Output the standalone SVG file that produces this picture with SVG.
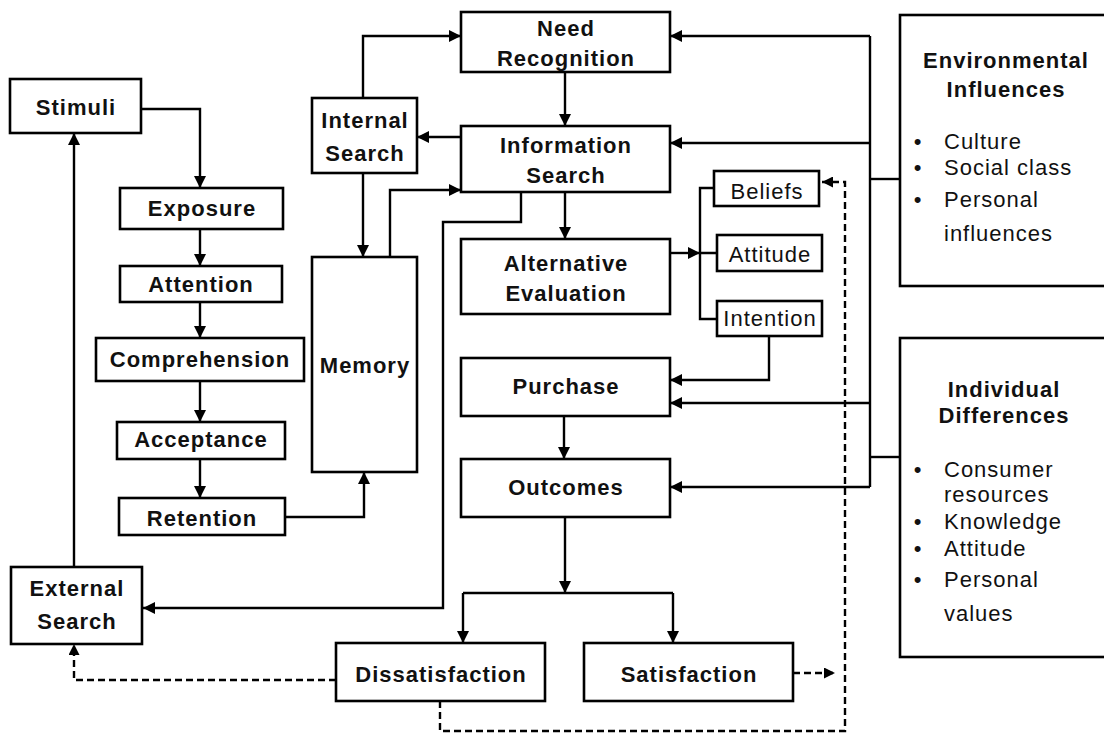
<svg xmlns="http://www.w3.org/2000/svg" width="1104" height="734" viewBox="0 0 1104 734">
  <style>
    .box { fill: #ffffff; stroke: #000000; stroke-width: 2.6; }
    .lbl { font-family: "Liberation Sans", Arial, sans-serif; font-size: 22px; font-weight: bold; letter-spacing: 1px; fill: #111111; text-anchor: middle; }
    .reg { font-family: "Liberation Sans", Arial, sans-serif; font-size: 22px; letter-spacing: 1px; fill: #111111; }
    .regc { text-anchor: middle; }
    .ln { fill: none; stroke: #000000; stroke-width: 2.4; }
    .dash { fill: none; stroke: #000000; stroke-width: 2.4; stroke-dasharray: 7 4; }
  </style>
  <defs>
    <marker id="arr" markerUnits="userSpaceOnUse" markerWidth="13" markerHeight="12" refX="12" refY="6" orient="auto">
      <path d="M0,0 L12,6 L0,12 Z" fill="#000000"/>
    </marker>
    <marker id="arrs" markerUnits="userSpaceOnUse" markerWidth="12" markerHeight="11" refX="11" refY="5.5" orient="auto">
      <path d="M0,0 L11,5.5 L0,11 Z" fill="#000000"/>
    </marker>
  </defs>
  <rect width="1104" height="734" fill="#ffffff"/>

  <!-- connectors -->
  <g id="connectors">
    <path class="ln" d="M141,109 H200 V188" marker-end="url(#arr)"/>
    <path class="ln" d="M200,229 V266" marker-end="url(#arr)"/>
    <path class="ln" d="M200,302 V338" marker-end="url(#arr)"/>
    <path class="ln" d="M200,381 V422" marker-end="url(#arr)"/>
    <path class="ln" d="M200,459 V498" marker-end="url(#arr)"/>
    <path class="ln" d="M285,517 H364 V472" marker-end="url(#arr)"/>
    <path class="ln" d="M74,567 V133" marker-end="url(#arr)"/>
    <path class="ln" d="M363,98 V36 H461" marker-end="url(#arr)"/>
    <path class="ln" d="M363,173 V257" marker-end="url(#arr)"/>
    <path class="ln" d="M390,257 V190 H461" marker-end="url(#arr)"/>
    <path class="ln" d="M461,137 H417" marker-end="url(#arr)"/>
    <path class="ln" d="M565,72 V126" marker-end="url(#arr)"/>
    <path class="ln" d="M565,192 V239" marker-end="url(#arr)"/>
    <path class="ln" d="M521,192 V222 H443 V608 H143" marker-end="url(#arr)"/>
    <path class="ln" d="M670,253 H700" marker-end="url(#arr)"/>
    <path class="ln" d="M714,188 H700 V319 H717 M700,253 H717"/>
    <path class="ln" d="M769,336 V380 H670" marker-end="url(#arr)"/>
    <path class="ln" d="M564,416 V459" marker-end="url(#arr)"/>
    <path class="ln" d="M565,517 V593" marker-end="url(#arr)"/>
    <path class="ln" d="M463,593 H673"/>
    <path class="ln" d="M463,593 V643" marker-end="url(#arr)"/>
    <path class="ln" d="M673,593 V643" marker-end="url(#arr)"/>
    <!-- influence bus -->
    <path class="ln" d="M870,36 V487"/>
    <path class="ln" d="M870,36 H670" marker-end="url(#arr)"/>
    <path class="ln" d="M870,143 H670" marker-end="url(#arr)"/>
    <path class="ln" d="M870,403 H670" marker-end="url(#arr)"/>
    <path class="ln" d="M870,487 H670" marker-end="url(#arr)"/>
    <path class="ln" d="M870,179 H900"/>
    <path class="ln" d="M870,457 H900"/>
    <!-- feedback -->
    <path class="dash" d="M336,680 H74 V644" marker-end="url(#arrs)"/>
    <path class="dash" d="M440,701 V731 H845 V182 H822" marker-end="url(#arrs)"/>
    <path class="dash" d="M793,673 H835" marker-end="url(#arrs)"/>
  </g>

  <g id="stimuli">
    <rect class="box" x="10" y="79" width="131" height="54"/>
    <text class="lbl" x="76" y="115">Stimuli</text>
  </g>
  <g id="exposure">
    <rect class="box" x="120" y="188" width="163" height="41"/>
    <text class="lbl" x="202" y="216">Exposure</text>
  </g>
  <g id="attention">
    <rect class="box" x="120" y="266" width="162" height="36"/>
    <text class="lbl" x="201" y="292">Attention</text>
  </g>
  <g id="comprehension">
    <rect class="box" x="96" y="338" width="208" height="43"/>
    <text class="lbl" x="200" y="367">Comprehension</text>
  </g>
  <g id="acceptance">
    <rect class="box" x="117" y="422" width="168" height="37"/>
    <text class="lbl" x="201" y="447">Acceptance</text>
  </g>
  <g id="retention">
    <rect class="box" x="119" y="498" width="166" height="37"/>
    <text class="lbl" x="202" y="526">Retention</text>
  </g>
  <g id="external-search">
    <rect class="box" x="11" y="567" width="131" height="77"/>
    <text class="lbl" x="77" y="596">External</text>
    <text class="lbl" x="77" y="629">Search</text>
  </g>
  <g id="internal-search">
    <rect class="box" x="312" y="98" width="105" height="75"/>
    <text class="lbl" x="365" y="128">Internal</text>
    <text class="lbl" x="365" y="161">Search</text>
  </g>
  <g id="memory">
    <rect class="box" x="312" y="257" width="105" height="215"/>
    <text class="lbl" x="365" y="373">Memory</text>
  </g>
  <g id="need-recognition">
    <rect class="box" x="461" y="12" width="209" height="60"/>
    <text class="lbl" x="566" y="36">Need</text>
    <text class="lbl" x="566" y="66">Recognition</text>
  </g>
  <g id="information-search">
    <rect class="box" x="461" y="126" width="209" height="66"/>
    <text class="lbl" x="566" y="153">Information</text>
    <text class="lbl" x="566" y="183">Search</text>
  </g>
  <g id="alternative-evaluation">
    <rect class="box" x="461" y="239" width="209" height="75"/>
    <text class="lbl" x="566" y="271">Alternative</text>
    <text class="lbl" x="566" y="301">Evaluation</text>
  </g>
  <g id="beliefs">
    <rect class="box" x="714" y="171" width="105" height="35"/>
    <text class="reg regc" x="767" y="199">Beliefs</text>
  </g>
  <g id="attitude">
    <rect class="box" x="717" y="235" width="105" height="36"/>
    <text class="reg regc" x="770" y="262">Attitude</text>
  </g>
  <g id="intention">
    <rect class="box" x="717" y="301" width="105" height="35"/>
    <text class="reg regc" x="770" y="326">Intention</text>
  </g>
  <g id="purchase">
    <rect class="box" x="461" y="358" width="209" height="58"/>
    <text class="lbl" x="566" y="394">Purchase</text>
  </g>
  <g id="outcomes">
    <rect class="box" x="461" y="459" width="209" height="58"/>
    <text class="lbl" x="566" y="495">Outcomes</text>
  </g>
  <g id="dissatisfaction">
    <rect class="box" x="336" y="643" width="209" height="58"/>
    <text class="lbl" x="441" y="682">Dissatisfaction</text>
  </g>
  <g id="satisfaction">
    <rect class="box" x="584" y="643" width="209" height="58"/>
    <text class="lbl" x="689" y="682">Satisfaction</text>
  </g>
  <g id="environmental-influences">
    <rect class="box" x="900" y="15" width="220" height="271"/>
    <text class="lbl" x="1006" y="68">Environmental</text>
    <text class="lbl" x="1006" y="97">Influences</text>
    <text class="reg regc" x="918" y="149">•</text>
    <text class="reg" x="944" y="149">Culture</text>
    <text class="reg regc" x="918" y="175">•</text>
    <text class="reg" x="944" y="175">Social class</text>
    <text class="reg regc" x="918" y="207">•</text>
    <text class="reg" x="944" y="207">Personal</text>
    <text class="reg" x="944" y="241">influences</text>
  </g>
  <g id="individual-differences">
    <rect class="box" x="900" y="338" width="220" height="319"/>
    <text class="lbl" x="1004" y="397">Individual</text>
    <text class="lbl" x="1004" y="423">Differences</text>
    <text class="reg regc" x="918" y="477">•</text>
    <text class="reg" x="944" y="477">Consumer</text>
    <text class="reg" x="944" y="502">resources</text>
    <text class="reg regc" x="918" y="529">•</text>
    <text class="reg" x="944" y="529">Knowledge</text>
    <text class="reg regc" x="918" y="556">•</text>
    <text class="reg" x="944" y="556">Attitude</text>
    <text class="reg regc" x="918" y="587">•</text>
    <text class="reg" x="944" y="587">Personal</text>
    <text class="reg" x="944" y="621">values</text>
  </g>
</svg>
